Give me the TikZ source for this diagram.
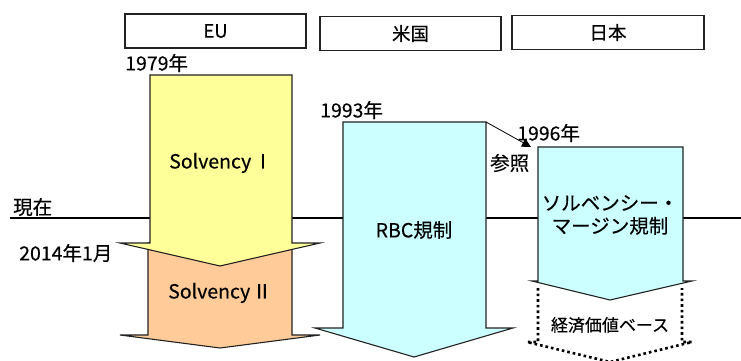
\documentclass[tikz,border=0pt]{standalone}
\usepackage{fontspec}
\setmainfont{Noto Sans CJK JP}[FakeBold=0.35]
\usetikzlibrary{arrows.meta}
\definecolor{yel}{HTML}{FFFF99}
\definecolor{org}{HTML}{FFCC99}
\definecolor{cyn}{HTML}{CCFFFF}
\definecolor{edge}{HTML}{222222}
\tikzset{
  hdr/.style={draw=edge, line width=1.2pt, fill=white, minimum width=181pt, minimum height=34pt, inner sep=0pt, font=\fontsize{18.5}{21}\selectfont},
  bigarrow/.style={draw=edge, line width=1.1pt, line join=miter},
  lbl/.style={inner sep=0pt, font=\fontsize{19.5}{23}\selectfont},
  small/.style={inner sep=0pt, font=\fontsize{17}{20}\selectfont},
  dotted arrow/.style={draw=black, line width=2.6pt, dash pattern=on 2.6pt off 3pt}
}
\begin{document}
\begin{tikzpicture}[x=1pt,y=-1pt]
\useasboundingbox (0,0) rectangle (741,361);
% now line
\draw[line width=1.3pt] (10,218) -- (741,218);
% header boxes
\node[hdr] (eu) at (215.5,31) {EU};
\node[hdr] (us) at (410.5,33.5) {米国};
\node[hdr, minimum width=192pt] (jp) at (608,32.5) {日本};
% orange arrow (Solvency II)
\filldraw[bigarrow, fill=org] (148,243) -- (148,335) -- (120,335) -- (220,348) -- (320,335) -- (292,335) -- (292,243) -- cycle;
% yellow arrow (Solvency I)
\filldraw[bigarrow, fill=yel] (150,75) -- (150,243) -- (120,243) -- (220,266) -- (320,243) -- (292,243) -- (292,75) -- cycle;
% RBC arrow
\filldraw[bigarrow, fill=cyn] (343,122) -- (343,328) -- (315,328) -- (414,357) -- (513,328) -- (486,328) -- (486,122) -- cycle;
% Japan arrow
\filldraw[bigarrow, fill=cyn] (538,147) -- (538,281) -- (532,281) -- (610,300) -- (692,281) -- (683,281) -- (683,147) -- cycle;
% dotted arrow
\draw[dotted arrow] (538,288) -- (538,342) -- (527,342) -- (610,362) -- (692,342) -- (682,342) -- (682,288);
% reference arrow
\coordinate (rbcTR) at (486,122);
\coordinate (jpTL) at (531,147);
\draw[line width=0.8pt, -{Triangle[length=9pt,width=9pt]}] (rbcTR) -- (jpTL);
% labels
\node[lbl, anchor=west] (y1979) at (125,63) {1979年};
\node[lbl, anchor=west] (y1993) at (320,110) {1993年};
\node[lbl, anchor=west] (y1996) at (517,133) {1996年};
\node[lbl, anchor=west] (ref) at (490,163) {参照};
\node[lbl, anchor=west] (now) at (13,207) {現在};
\node[lbl, anchor=west] (y2014) at (19,253) {2014年1月};
\node[lbl] (s1) at (221,163) {Solvency\kern2ptⅠ};
\node[lbl] (s2) at (220,293) {Solvency\kern2ptⅡ};
\node[lbl] (rbc) at (414,230) {RBC規制};
\node[lbl, align=center] (smr) at (610,215) {ソルベンシー・\\マージン規制};
\node[small] (eco) at (610,325) {経済価値ベース};
\end{tikzpicture}
\end{document}
